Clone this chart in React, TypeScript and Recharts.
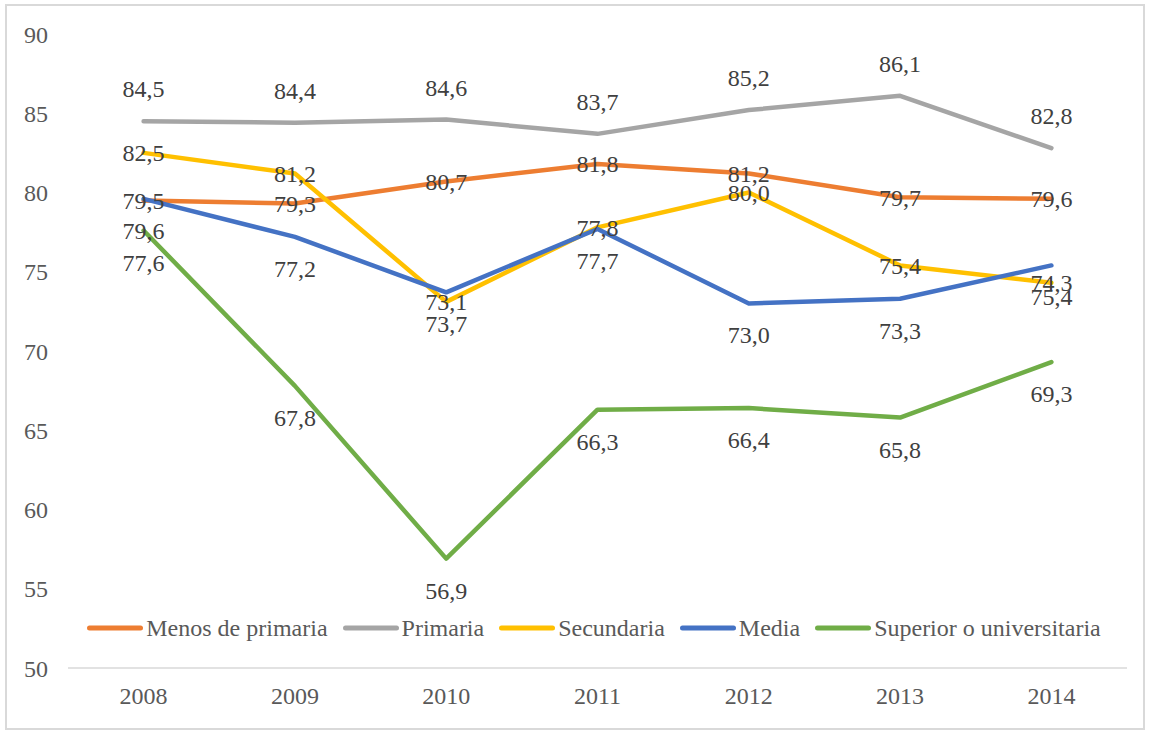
import React from 'react';
import { LineChart, Line, XAxis, YAxis, Legend, LabelList } from 'recharts';

const years = ['2008', '2009', '2010', '2011', '2012', '2013', '2014'];
const menosDePrimaria = [79.5, 79.3, 80.7, 81.8, 81.2, 79.7, 79.6];
const primaria = [84.5, 84.4, 84.6, 83.7, 85.2, 86.1, 82.8];
const secundaria = [82.5, 81.2, 73.1, 77.8, 80.0, 75.4, 74.3];
const media = [79.6, 77.2, 73.7, 77.7, 73.0, 73.3, 75.4];
const superior = [77.6, 67.8, 56.9, 66.3, 66.4, 65.8, 69.3];
const yTicks = [50, 55, 60, 65, 70, 75, 80, 85, 90];

const FONT = '"Liberation Serif", "Times New Roman", serif';
const FS = 24;

type Pos = 'center' | 'top' | 'bottom';
const series: { key: string; name: string; values: number[]; color: string; pos: Pos; offset: number }[] = [
  { key: 'menos', name: 'Menos de primaria', values: menosDePrimaria, color: '#ED7D31', pos: 'center', offset: 0 },
  { key: 'primaria', name: 'Primaria', values: primaria, color: '#A5A5A5', pos: 'top', offset: 24 },
  { key: 'secundaria', name: 'Secundaria', values: secundaria, color: '#FFC000', pos: 'center', offset: 0 },
  { key: 'media', name: 'Media', values: media, color: '#4472C4', pos: 'bottom', offset: 23 },
  { key: 'superior', name: 'Superior o universitaria', values: superior, color: '#70AD47', pos: 'bottom', offset: 23 },
];

const data = years.map((year, i) => {
  const row: Record<string, string | number> = { year };
  series.forEach((s) => {
    row[s.key] = s.values[i];
  });
  return row;
});

const fmt = (v: any) => Number(v).toFixed(1).replace('.', ',');

const renderLegend = () => (
  <div
    style={{
      display: 'flex',
      justifyContent: 'center',
      alignItems: 'center',
      fontFamily: FONT,
      fontSize: FS,
      color: '#595959',
    }}
  >
    {series.map((s, i) => (
      <div
        key={s.key}
        style={{ display: 'flex', alignItems: 'center', marginRight: i === series.length - 1 ? 0 : 15 }}
      >
        <svg width={56} height={10}>
          <line x1={2.5} y1={5} x2={53.5} y2={5} stroke={s.color} strokeWidth={5} strokeLinecap="round" />
        </svg>
        <span style={{ marginLeft: 3, lineHeight: '26px', whiteSpace: 'nowrap' }}>{s.name}</span>
      </div>
    ))}
  </div>
);

export default function App() {
  return (
    <div style={{ position: 'absolute', left: 0, top: 0, width: 1150, height: 732, background: '#ffffff' }}>
      <div
        style={{
          position: 'absolute',
          left: 5,
          top: 4,
          width: 1140,
          height: 726,
          border: '2px solid #D9D9D9',
          boxSizing: 'border-box',
        }}
      />
      <div style={{ position: 'absolute', left: 0, top: 0, fontFamily: FONT }}>
        <LineChart
          width={1150}
          height={732}
          data={data}
          margin={{ top: 34, right: 23, left: 0, bottom: 34 }}
          style={{ fontFamily: FONT }}
        >
          <XAxis
            dataKey="year"
            height={30}
            padding={{ left: 75.6, right: 75.6 }}
            axisLine={{ stroke: '#D9D9D9', strokeWidth: 1.5 }}
            tickLine={false}
            tickSize={0}
            tickMargin={19}
            tick={{ fontFamily: FONT, fontSize: FS, fill: '#595959' }}
          />
          <YAxis
            width={68}
            domain={[50, 90]}
            ticks={yTicks}
            interval={0}
            axisLine={false}
            tickLine={false}
            tickSize={0}
            tickMargin={20}
            tick={{ fontFamily: FONT, fontSize: FS, fill: '#595959' }}
          />
          <Legend
            verticalAlign="middle"
            layout="horizontal"
            content={renderLegend}
            wrapperStyle={{ top: 615, left: 62, width: 1064 }}
          />
          {series.map((s) => (
            <Line
              key={s.key}
              type="linear"
              dataKey={s.key}
              name={s.name}
              stroke={s.color}
              strokeWidth={4.5}
              strokeLinecap="round"
              strokeLinejoin="round"
              dot={false}
              activeDot={false}
              isAnimationActive={false}
            />
          ))}
          {series.map((s) => (
            <Line
              key={s.key + '-labels'}
              type="linear"
              dataKey={s.key}
              stroke="none"
              dot={false}
              activeDot={false}
              legendType="none"
              isAnimationActive={false}
            >
              <LabelList
                dataKey={s.key}
                position={s.pos}
                offset={s.offset}
                formatter={fmt}
                fontFamily={FONT}
                fontSize={FS}
                fill="#404040"
              />
            </Line>
          ))}
        </LineChart>
      </div>
    </div>
  );
}
